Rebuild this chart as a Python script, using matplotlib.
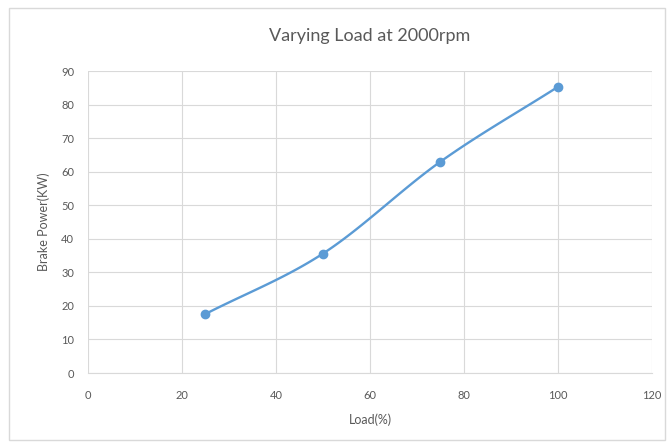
import numpy as np
import matplotlib
matplotlib.use('Agg')
import matplotlib.pyplot as plt
from matplotlib.patches import Rectangle

plt.rcParams['font.family'] = ['Lato', 'DejaVu Sans']

load = [25, 50, 75, 100]
power = [17.6, 35.6, 63.0, 85.3]
xticks = [0, 20, 40, 60, 80, 100, 120]
yticks = [0, 10, 20, 30, 40, 50, 60, 70, 80, 90]


def smooth(x, y, n=40):
    # catmull-rom through the points, like a smoothed office chart line
    x = np.asarray(x, float)
    y = np.asarray(y, float)
    px = np.concatenate([[2 * x[0] - x[1]], x, [2 * x[-1] - x[-2]]])
    py = np.concatenate([[2 * y[0] - y[1]], y, [2 * y[-1] - y[-2]]])
    xs, ys = [], []
    t = np.linspace(0, 1, n)
    for i in range(1, len(px) - 2):
        for p, out in ((px, xs), (py, ys)):
            p0, p1, p2, p3 = p[i - 1], p[i], p[i + 1], p[i + 2]
            out.extend(0.5 * ((2 * p1) + (-p0 + p2) * t
                              + (2 * p0 - 5 * p1 + 4 * p2 - p3) * t ** 2
                              + (-p0 + 3 * p1 - 3 * p2 + p3) * t ** 3))
    return xs, ys


fig = plt.figure(figsize=(6.69, 4.47), dpi=100)
fig.patches.append(Rectangle((0.014, 0.015), 0.98, 0.966, transform=fig.transFigure,
                             fill=False, edgecolor='#d9d9d9', linewidth=1))
ax = fig.add_axes([0.1315, 0.1655, 0.843, 0.6755])

sx, sy = smooth(load, power)
ax.plot(sx, sy, color='#5b9bd5', linewidth=1.7, zorder=3)
ax.plot(load, power, 'o', color='#5b9bd5', markersize=6, zorder=4)

ax.set_xlim(0, 120)
ax.set_ylim(0, 90)
ax.set_xticks(xticks)
ax.set_yticks(yticks)
ax.grid(True, color='#d9d9d9', linewidth=0.8)
ax.set_axisbelow(True)
for s in ['top', 'right', 'left']:
    ax.spines[s].set_visible(False)
ax.spines['bottom'].set_color('#d9d9d9')
ax.tick_params(length=0, labelsize=8, colors='#595959')
ax.tick_params(axis='x', pad=12)
ax.tick_params(axis='y', pad=10)

ax.set_title('Varying Load at 2000rpm', fontsize=13, color='#595959', pad=22)
ax.set_xlabel('Load(%)', fontsize=9, color='#595959', labelpad=9)
ax.set_ylabel('Brake Power(KW)', fontsize=9, color='#595959', labelpad=8)

fig.savefig('out.png', dpi=100)
